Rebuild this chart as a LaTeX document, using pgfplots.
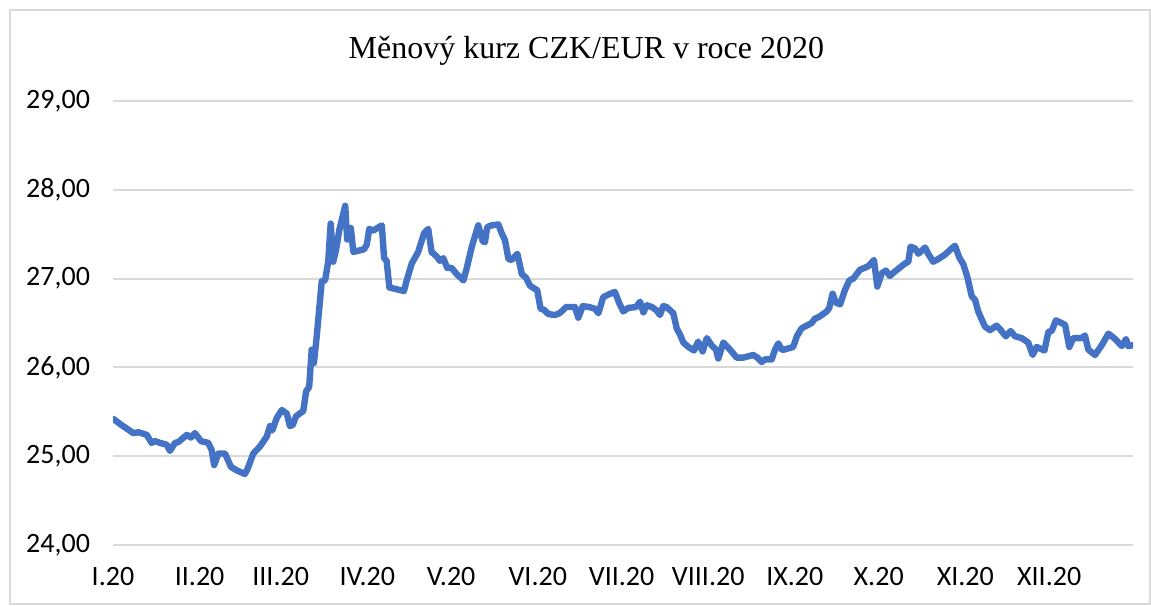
\documentclass[border=0pt]{standalone}
\usepackage{fontspec}
\setmainfont{Carlito}
\newfontfamily\titlefont{Liberation Serif}
\usepackage{pgfplots}
\pgfplotsset{compat=1.18}
\definecolor{lineblue}{RGB}{68,114,196}
\definecolor{gridgray}{RGB}{217,217,217}

\begin{document}
\begin{tikzpicture}[x=1pt,y=1pt]
\useasboundingbox (0,0) rectangle (575.5,302.5);
\draw[gridgray, line width=0.8pt] (5,0.4) rectangle (575.1,297.5);
\node[font=\titlefont\fontsize{16}{19}\selectfont] at (293.2,277) {Měnový kurz CZK/EUR v roce 2020};
\begin{axis}[
  at={(56.5pt,30pt)}, anchor=south west,
  scale only axis, width=510pt, height=222pt,
  xmin=1, xmax=366, ymin=24, ymax=29,
  ytick={24,25,26,27,28,29},
  xtick={1,32,61,92,122,153,183,214,245,275,306,336},
  xticklabels={I.20,II.20,III.20,IV.20,V.20,VI.20,VII.20,VIII.20,IX.20,X.20,XI.20,XII.20},
  ymajorgrids, grid style={gridgray, line width=1pt},
  axis line style={draw=none}, tick style={draw=none},
  ticklabel style={font=\fontsize{14}{16}\selectfont},
  yticklabel style={xshift=-8pt},
  xticklabel style={yshift=-7.5pt},
  /pgf/number format/.cd, fixed, fixed zerofill, precision=2, use comma, assume math mode=true,
]
\addplot[lineblue, line width=3.2pt, line join=round, line cap=round] coordinates {
(1.1,25.42) (4.1,25.35) (8.3,25.26) (10.1,25.27) (13.1,25.24) (14.8,25.15) (16.0,25.17) (17.8,25.15)
(20.2,25.13) (21.4,25.06) (23.2,25.15) (24.4,25.16) (27.4,25.24) (28.9,25.21) (30.3,25.26) (32.5,25.17)
(35.1,25.15) (36.3,25.07) (37.2,24.90) (38.7,25.03) (41.1,25.03) (43.2,24.88) (45.3,24.84) (48.2,24.80)
(49.2,24.86) (51.2,25.03) (53.6,25.11) (56.0,25.22) (57.2,25.34) (58.0,25.29) (59.6,25.43) (61.4,25.52)
(63.2,25.48) (64.3,25.34) (65.3,25.35) (66.5,25.45) (69.1,25.51) (70.1,25.73) (71.2,25.78) (72.1,26.20)
(72.9,26.05) (73.9,26.35) (75.7,26.97) (76.9,26.98) (78.0,27.19) (78.9,27.62) (79.8,27.19) (80.8,27.32)
(82.0,27.55) (84.1,27.82) (84.8,27.44) (86.1,27.57) (87.0,27.30) (90.8,27.33) (91.8,27.38) (92.7,27.56)
(94.1,27.54) (97.2,27.60) (98.0,27.23) (98.9,27.20) (99.9,26.90) (105.1,26.86) (106.1,26.98) (107.9,27.17)
(110.2,27.30) (112.3,27.51) (113.8,27.56) (115.0,27.30) (116.8,27.25) (118.0,27.20) (119.2,27.23) (120.6,27.12)
(122.2,27.12) (124.0,27.05) (126.4,26.98) (127.6,27.12) (129.4,27.36) (131.7,27.60) (133.3,27.42) (134.1,27.41)
(134.9,27.58) (136.5,27.60) (138.9,27.61) (140.1,27.51) (141.3,27.43) (142.5,27.22) (143.7,27.21) (145.7,27.28)
(147.3,27.05) (148.8,27.01) (150.2,26.92) (151.7,26.89) (152.8,26.87) (154.0,26.66) (155.2,26.65) (156.8,26.60)
(159.2,26.59) (160.7,26.61) (161.9,26.64) (163.1,26.68) (166.3,26.68) (167.5,26.56) (169.1,26.69) (171.4,26.68)
(173.5,26.66) (174.7,26.61) (176.4,26.79) (178.2,26.82) (180.6,26.85) (182.2,26.72) (183.6,26.63) (185.4,26.67)
(188.2,26.68) (189.6,26.74) (190.8,26.62) (192.0,26.70) (193.8,26.68) (195.6,26.64) (196.7,26.59) (197.9,26.69)
(199.1,26.68) (201.5,26.61) (202.7,26.44) (203.9,26.37) (205.1,26.28) (206.9,26.23) (208.9,26.19) (210.4,26.29)
(212.0,26.18) (213.5,26.33) (215.2,26.25) (216.8,26.20) (217.6,26.10) (219.4,26.28) (221.8,26.20) (224.2,26.11)
(226.5,26.11) (230.1,26.14) (231.6,26.11) (233.1,26.06) (234.3,26.09) (236.7,26.09) (237.9,26.20) (239.1,26.27)
(240.3,26.20) (241.1,26.20) (244.4,26.23) (245.7,26.35) (247.4,26.44) (249.2,26.47) (251.0,26.50) (252.2,26.55)
(253.7,26.57) (254.6,26.59) (256.4,26.63) (257.3,26.67) (258.5,26.83) (259.7,26.73) (261.2,26.71) (262.9,26.87)
(264.5,26.98) (265.9,27.00) (268.3,27.10) (271.3,27.14) (273.3,27.21) (274.5,26.91) (276.1,27.06) (277.6,27.09)
(279.0,27.03) (280.8,27.08) (284.4,27.17) (285.6,27.19) (286.4,27.36) (288.0,27.34) (289.2,27.28) (291.6,27.35)
(292.7,27.28) (294.5,27.19) (296.3,27.22) (298.7,27.27) (301.1,27.34) (302.3,27.37) (303.8,27.24) (305.3,27.16)
(306.7,27.02) (308.3,26.80) (309.5,26.76) (310.6,26.63) (313.0,26.46) (314.8,26.42) (317.2,26.47) (318.4,26.43)
(320.5,26.35) (322.2,26.41) (323.8,26.35) (326.2,26.33) (328.5,26.28) (330.1,26.14) (331.5,26.23) (334.3,26.19)
(335.7,26.40) (336.9,26.41) (338.4,26.53) (341.7,26.48) (343.2,26.23) (344.6,26.33) (347.6,26.33) (348.8,26.36)
(350.0,26.20) (352.4,26.14) (354.8,26.25) (357.2,26.38) (359.6,26.32) (362.0,26.24) (363.5,26.32) (364.3,26.24)
(365.9,26.25)
};
\end{axis}
\end{tikzpicture}
\end{document}
